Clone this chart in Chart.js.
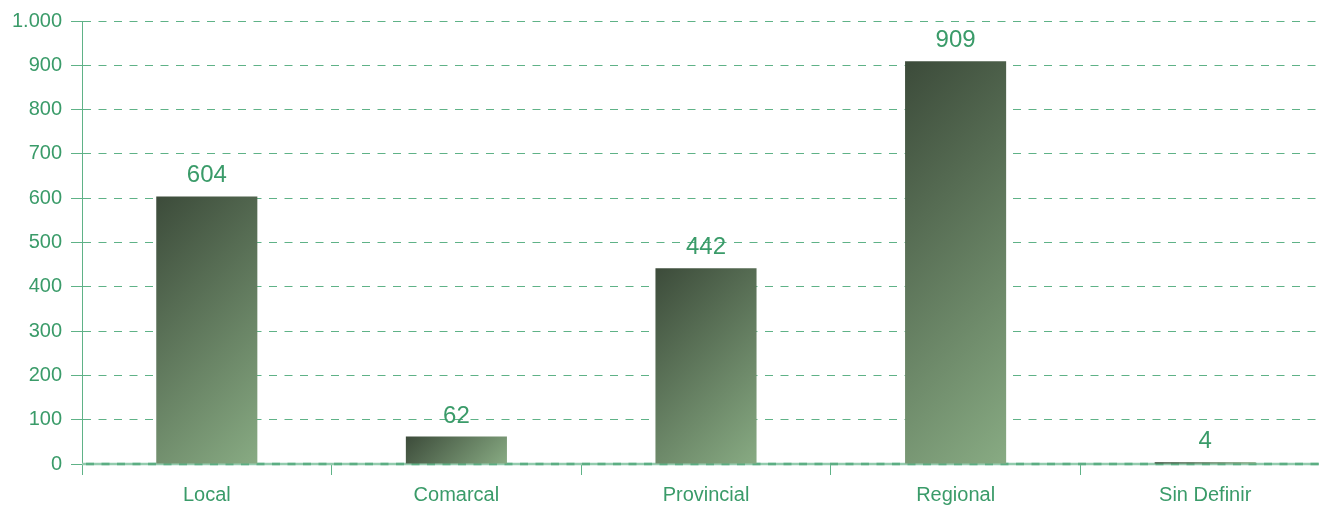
<!DOCTYPE html>
<html>
<head>
<meta charset="utf-8">
<script src="https://cdn.jsdelivr.net/npm/chart.js@4/dist/chart.umd.min.js"></script>
<style>
  html, body { margin: 0; padding: 0; overflow: hidden; background: #ffffff; }
  #wrap { width: 1330px; height: 506px; }
</style>
</head>
<body>
<div id="wrap"><canvas id="c" width="1330" height="506"></canvas></div>
<script>
const categories = ['Local', 'Comarcal', 'Provincial', 'Regional', 'Sin Definir'];
const values = [604, 62, 442, 909, 4];
const yTickLabels = ['0', '100', '200', '300', '400', '500', '600', '700', '800', '900', '1.000'];

const TEXT = '#3a9b69';
const GRID = '#5fb287';
const FONT = 'Arial, "Liberation Sans", Helvetica, sans-serif';
const BAR_PCT = 0.405;

// 45-degree gradient (top-left dark -> bottom-right light) per bar
function barGradient(ctx) {
  const chart = ctx.chart;
  const xs = chart.scales.x, ys = chart.scales.y;
  if (!chart.chartArea || !xs || !ys) return '#5f7d5a';
  const i = ctx.dataIndex;
  const v = ctx.raw;
  const cx = xs.getPixelForValue(i);
  const w = xs.width / categories.length * BAR_PCT;
  const left = cx - w / 2;
  const top = ys.getPixelForValue(v), bottom = ys.getPixelForValue(0);
  const h = Math.max(1, bottom - top);
  const s = (w + h) / 2;
  const g = chart.ctx.createLinearGradient(left, top, left + s, top + s);
  g.addColorStop(0, '#3c4b3a');
  g.addColorStop(1, '#88ab83');
  return g;
}

const zeroLine = {
  id: 'zeroLine',
  beforeDatasetsDraw(chart) {
    const { ctx, chartArea } = chart;
    const y = chart.scales.y.getPixelForValue(0);
    ctx.save();
    ctx.lineWidth = 2.5;
    ctx.strokeStyle = '#93ccae';
    ctx.beginPath();
    ctx.moveTo(chartArea.left, y);
    ctx.lineTo(chartArea.right, y);
    ctx.stroke();
    ctx.setLineDash([8, 7.5]);
    ctx.strokeStyle = '#5cae83';
    ctx.beginPath();
    ctx.moveTo(chartArea.left + 4, y);
    ctx.lineTo(chartArea.right, y);
    ctx.stroke();
    ctx.restore();
  }
};

const valueLabels = {
  id: 'valueLabels',
  afterDatasetsDraw(chart) {
    const { ctx } = chart;
    const meta = chart.getDatasetMeta(0);
    ctx.save();
    ctx.fillStyle = TEXT;
    ctx.font = '24px ' + FONT;
    ctx.textAlign = 'center';
    ctx.textBaseline = 'alphabetic';
    meta.data.forEach((bar, i) => {
      ctx.fillText(String(values[i]), bar.x, bar.y - 14);
    });
    ctx.restore();
  }
};

new Chart(document.getElementById('c'), {
  type: 'bar',
  data: {
    labels: categories,
    datasets: [{
      data: values,
      backgroundColor: barGradient,
      borderWidth: 0,
      barPercentage: BAR_PCT,
      categoryPercentage: 1
    }]
  },
  options: {
    responsive: false,
    animation: false,
    layout: { padding: { top: 21, right: 0, left: 0, bottom: 0 } },
    plugins: { legend: { display: false }, tooltip: { enabled: false } },
    scales: {
      x: {
        offset: true,
        afterFit(scale) { scale.height = 42; },
        grid: {
          offset: true,
          drawOnChartArea: false,
          drawTicks: true,
          tickLength: 11,
          color: GRID,
          tickColor: GRID,
          lineWidth: 1
        },
        border: { display: false },
        ticks: {
          color: TEXT,
          font: { family: FONT, size: 20 },
          padding: 8,
          maxRotation: 0,
          autoSkip: false
        }
      },
      y: {
        min: 0,
        max: 1000,
        afterFit(scale) { scale.width = 82; },
        grid: {
          color: GRID,
          lineWidth: 1,
          drawTicks: true,
          tickLength: 11,
          tickColor: GRID,
          tickBorderDash: []
        },
        border: { display: true, color: GRID, width: 1, dash: [8, 7.5] },
        ticks: {
          stepSize: 100,
          color: TEXT,
          font: { family: FONT, size: 20 },
          padding: 9,
          callback: (v, i) => yTickLabels[i]
        }
      }
    }
  },
  plugins: [zeroLine, valueLabels]
});
</script>
</body>
</html>
